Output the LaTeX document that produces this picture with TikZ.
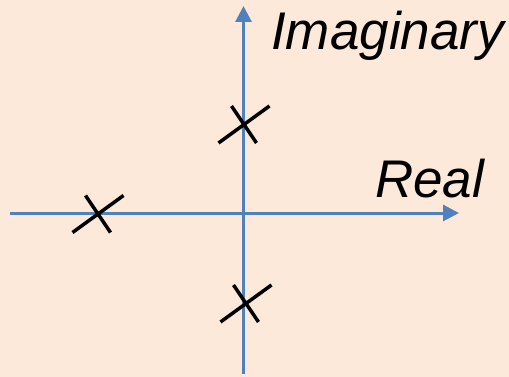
\documentclass[tikz,border=0pt]{standalone}
\usepackage{fontspec}
\setmainfont{Liberation Sans}
\usetikzlibrary{arrows.meta}
\definecolor{bgpeach}{HTML}{FDE9D9}
\definecolor{axisblue}{HTML}{4F81BD}
\begin{document}
\begin{tikzpicture}[x=1pt,y=-1pt,
  axis/.style={draw=axisblue,line width=3pt,-{Triangle[length=16pt,width=16pt]}},
  pole/.style={draw=black,line width=3.5pt},
  axlabel/.style={font=\fontsize{53}{60}\selectfont\itshape,anchor=base west,inner sep=0pt}]
\fill[bgpeach] (0,0) rectangle (509,377);
\useasboundingbox (0,0) rectangle (509,377);
% axes
\coordinate (xl) at (10,213);
\coordinate (xr) at (459,213);
\coordinate (yb) at (243.5,374);
\coordinate (yt) at (243.5,6);
\draw[axis] (xl) -- (xr);
\draw[axis] (yb) -- (yt);
% labels
\node[axlabel] (imag) at (271,50) {Imaginary};
\node[axlabel] (real) at (375,197) {Real};
% poles
\coordinate (p1) at (98,214);
\coordinate (p2) at (244,124.5);
\coordinate (p3) at (246,303.5);
\foreach \p in {p1,p2,p3}{
  \draw[pole,shift={(\p)}] (-25.5,18.5) -- (25.5,-18.5) (-12.5,-18.5) -- (12.5,18.5);
}
\end{tikzpicture}
\end{document}
